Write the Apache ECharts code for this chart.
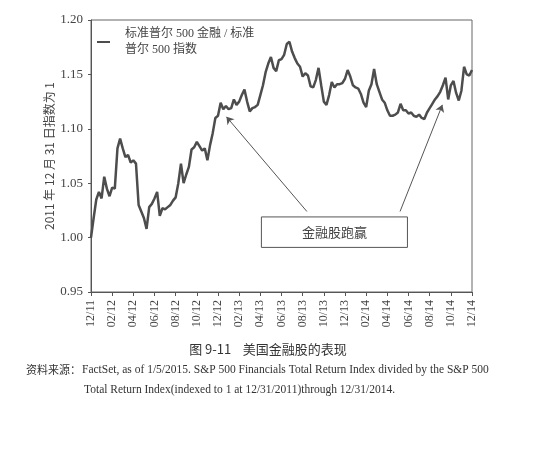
<!DOCTYPE html>
<html>
<head>
<meta charset="utf-8">
<script src="https://cdn.jsdelivr.net/npm/echarts@6/dist/echarts.min.js"></script>
<style>
  html, body { margin: 0; padding: 0; background: #fff; }
  #main { width: 536px; height: 471px; }
</style>
</head>
<body>
<div id="main"></div>
<script>
// weekly readings, 12/30/2011 .. 12/31/2014 (4 points per month)
var ratio = [
  1.000, 1.018, 1.035, 1.042, 1.036, 1.056, 1.045, 1.038, 1.046, 1.045,
  1.082, 1.091, 1.082, 1.074, 1.076, 1.069, 1.071, 1.068, 1.030, 1.024,
  1.018, 1.008, 1.028, 1.031, 1.036, 1.042, 1.020, 1.027, 1.026, 1.028,
  1.030, 1.034, 1.037, 1.050, 1.068, 1.050, 1.058, 1.065, 1.081, 1.083,
  1.088, 1.084, 1.080, 1.082, 1.071, 1.085, 1.096, 1.110, 1.112, 1.124,
  1.118, 1.121, 1.118, 1.119, 1.127, 1.122, 1.125, 1.131, 1.136, 1.125,
  1.116, 1.119, 1.120, 1.122, 1.131, 1.140, 1.152, 1.160, 1.166, 1.156,
  1.153, 1.163, 1.164, 1.168, 1.178, 1.180, 1.171, 1.165, 1.160, 1.157,
  1.148, 1.151, 1.149, 1.139, 1.138, 1.145, 1.156, 1.140, 1.125, 1.122,
  1.131, 1.143, 1.138, 1.141, 1.141, 1.142, 1.146, 1.154, 1.148, 1.140,
  1.138, 1.137, 1.132, 1.124, 1.120, 1.135, 1.141, 1.155, 1.141, 1.134,
  1.127, 1.124, 1.117, 1.112, 1.112, 1.113, 1.115, 1.123, 1.117, 1.117,
  1.114, 1.115, 1.112, 1.111, 1.113, 1.110, 1.109, 1.115, 1.119, 1.123,
  1.127, 1.130, 1.134, 1.140, 1.147, 1.127, 1.140, 1.144, 1.133, 1.126,
  1.135, 1.157, 1.150, 1.149, 1.154
];
var pointsPerMonth = 4;

var xTickLabels = ['12/11', '02/12', '04/12', '06/12', '08/12', '10/12', '12/12',
  '02/13', '04/13', '06/13', '08/13', '10/13', '12/13',
  '02/14', '04/14', '06/14', '08/14', '10/14', '12/14'];

// annotation: box and arrows, in [month, value]
var calloutBox = [[16.1, 1.019], [29.9, 0.991]];
var calloutText = '金融股跑赢';
var arrows = [
  [[20.4, 1.024], [12.8, 1.111]],
  [[29.2, 1.024], [33.2, 1.122]]
];

var seriesName = '标准普尔 500 金融 / 标准\n普尔 500 指数';

var myChart = echarts.init(document.getElementById('main'));

var lineData = ratio.map(function(v, i) {
    return [i / pointsPerMonth, v];
});

var serif = '"Liberation Serif", "Noto Sans CJK SC", serif';
var cjk = '"Noto Sans CJK SC", sans-serif';

option = {
    backgroundColor: '#fff',
    animation: false,
    grid: {
        left: 91,
        right: 64,
        top: 20,
        bottom: 179,
        show: true,
        borderColor: '#666',
        borderWidth: 1
    },
    legend: {
        left: 92,
        top: 21,
        itemWidth: 13,
        itemHeight: 2,
        icon: 'rect',
        textStyle: {
            fontFamily: serif,
            fontSize: 12,
            color: '#444',
            lineHeight: 16,
            padding: [0, 0, 0, 10]
        },
        data: [seriesName]
    },
    xAxis: {
        type: 'value',
        min: 0,
        max: 36,
        interval: 2,
        splitLine: { show: false },
        axisLine: { lineStyle: { color: '#555' } },
        axisTick: { length: 4, lineStyle: { color: '#555' } },
        axisLabel: {
            rotate: 90,
            margin: 8,
            fontFamily: serif,
            fontSize: 12,
            color: '#444',
            formatter: function(v) {
                return xTickLabels[Math.round(v / 2)];
            }
        }
    },
    yAxis: {
        type: 'value',
        min: 0.95,
        max: 1.20,
        interval: 0.05,
        name: '2011 年 12 月 31 日指数为 1',
        nameLocation: 'middle',
        nameRotate: 90,
        nameGap: 36,
        nameMoveOverlap: false,
        nameTextStyle: {
            fontFamily: cjk,
            fontSize: 12,
            color: '#444'
        },
        splitLine: { show: false },
        axisLine: { show: true, lineStyle: { color: '#555' } },
        axisTick: { show: true, length: 3, lineStyle: { color: '#555' } },
        axisLabel: {
            fontFamily: serif,
            fontSize: 13,
            color: '#444',
            margin: 8,
            formatter: function(v) { return v.toFixed(2); }
        }
    },
    series: [{
        name: seriesName,
        type: 'line',
        data: lineData,
        showSymbol: false,
        symbol: 'none',
        lineStyle: { color: '#4d4d4d', width: 2.5 },
        itemStyle: { color: '#4d4d4d' },
        markArea: {
            silent: true,
            itemStyle: {
                color: 'rgba(0,0,0,0)',
                borderColor: '#555',
                borderWidth: 1
            },
            label: {
                show: true,
                position: 'inside',
                fontFamily: cjk,
                fontSize: 13,
                color: '#444'
            },
            data: [[
                { name: calloutText, coord: calloutBox[0] },
                { coord: calloutBox[1] }
            ]]
        },
        markLine: {
            silent: true,
            symbol: ['none', 'arrow'],
            symbolSize: 7,
            label: { show: false },
            lineStyle: { color: '#555', width: 1, type: 'solid' },
            data: arrows.map(function(a) {
                return [{ coord: a[0] }, { coord: a[1] }];
            })
        }
    }],
    graphic: [{
        type: 'text',
        left: 'center',
        top: 343,
        style: {
            text: '图 9-11    美国金融股的表现',
            font: '13px "Noto Sans CJK SC", sans-serif',
            fill: '#333'
        }
    }, {
        type: 'text',
        left: 26,
        top: 364,
        style: {
            text: '资料来源：',
            font: '11px "Noto Sans CJK SC", sans-serif',
            fill: '#333'
        }
    }, {
        type: 'text',
        left: 82,
        top: 364,
        style: {
            text: 'FactSet, as of 1/5/2015. S&P 500 Financials Total Return Index divided by the S&P 500',
            font: '11.5px "Liberation Serif", serif',
            fill: '#333'
        }
    }, {
        type: 'text',
        left: 84,
        top: 384,
        style: {
            text: 'Total Return Index(indexed to 1 at 12/31/2011)through 12/31/2014.',
            font: '11.5px "Liberation Serif", serif',
            fill: '#333'
        }
    }]
};

myChart.setOption(option);
</script>
</body>
</html>
